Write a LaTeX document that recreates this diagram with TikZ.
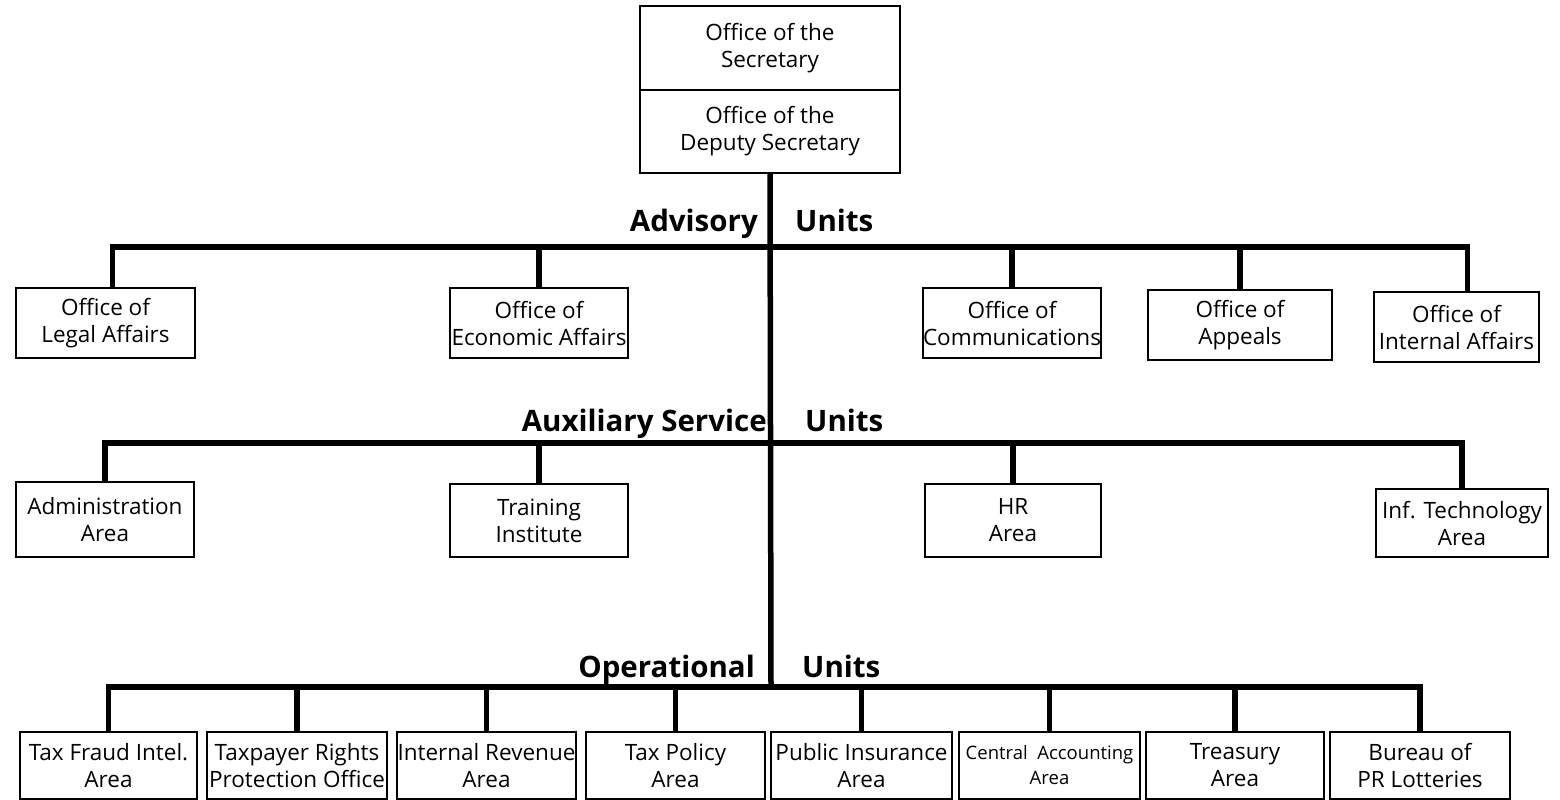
\documentclass[tikz,border=0pt]{standalone}
\usepackage{fontspec}
\setmainfont{Open Sans}
\usetikzlibrary{positioning}

\tikzset{
  office/.style={draw, line width=2pt, inner sep=0pt, align=center,
    font=\fontsize{22.5}{27}\selectfont},
  tierlbl/.style={inner sep=0pt, font=\bfseries\fontsize{29.5}{32}\selectfont},
  bar/.style={line width=5.5pt},
}

\begin{document}
\begin{tikzpicture}[x=1pt, y=-1pt]
\useasboundingbox (0,0) rectangle (1560,800);

% top offices
\node[office, minimum width=260, minimum height=84] (sec) at (770,48) {Office of the\\Secretary};
\node[office, minimum width=260, minimum height=83] (dep) at (770,131.5) {Office of the\\Deputy Secretary};

\coordinate (adv) at (771,247);
\coordinate (aux) at (771,443);
\coordinate (op) at (771,687);

\draw[bar] (dep.south) -- (op);

% advisory units
\node[tierlbl, anchor=base east] (advA) at (758,231) {Advisory};
\node[tierlbl, anchor=base west] (advB) at (795,231) {Units};

\node[office, minimum width=179, minimum height=70] (legal) at (105.5,323) {Office of\\Legal Affairs};
\node[office, minimum width=178, minimum height=70] (econ) at (539,323) {Office of\\Economic Affairs};
\node[office, minimum width=178, minimum height=70] (comm) at (1012,323) {Office of\\Communications};
\node[office, minimum width=184, minimum height=70] (appeals) at (1240,325) {Office of\\Appeals};
\node[office, minimum width=165, minimum height=70] (intaff) at (1456.5,327) {Office of\\Internal Affairs};

\draw[bar] ([xshift=7pt]legal.north) -- ([xshift=7pt]legal.north |- adv)
  -- ([xshift=11pt]intaff.north |- adv) -- ([xshift=11pt]intaff.north);
\foreach \n in {econ,comm,appeals}
  \draw[bar] (\n.north) -- (\n.north |- adv);

% auxiliary service units
\node[tierlbl, anchor=base east] (auxA) at (767,431) {Auxiliary Service};
\node[tierlbl, anchor=base west] (auxB) at (805,431) {Units};

\node[office, minimum width=178, minimum height=75] (admin) at (105,519.5) {Administration\\Area};
\node[office, minimum width=178, minimum height=73] (train) at (539,520.5) {Training\\Institute};
\node[office, minimum width=176, minimum height=73] (hr) at (1013,520.5) {HR\\Area};
\node[office, minimum width=172, minimum height=68] (infotech) at (1462,523) {Inf. Technology\\Area};

\draw[bar] (admin.north) -- (admin.north |- aux) -- (infotech.north |- aux) -- (infotech.north);
\foreach \n in {train,hr}
  \draw[bar] (\n.north) -- (\n.north |- aux);

% operational units
\node[tierlbl, anchor=base east] (opA) at (755,677) {Operational};
\node[tierlbl, anchor=base west] (opB) at (802,677) {Units};

\node[office, minimum width=177, minimum height=67] (fraud) at (108.5,765.5) {Tax Fraud Intel.\\Area};
\node[office, minimum width=180, minimum height=67] (rights) at (297,765.5) {Taxpayer Rights\\Protection Office};
\node[office, minimum width=179, minimum height=67] (revenue) at (486.5,765.5) {Internal Revenue\\Area};
\node[office, minimum width=179, minimum height=67] (policy) at (675.5,765.5) {Tax Policy\\Area};
\node[office, minimum width=181, minimum height=67] (insur) at (861.5,765.5) {Public Insurance\\Area};
\node[office, minimum width=181, minimum height=67, font=\fontsize{18.5}{25}\selectfont] (acct) at (1049.5,765.5) {Central~ Accounting\\Area};
\node[office, minimum width=178, minimum height=67] (treas) at (1235,765.5) {Treasury\\Area};
\node[office, minimum width=180, minimum height=67] (lotto) at (1420,765.5) {Bureau of\\PR Lotteries};

\draw[bar] (fraud.north) -- (fraud.north |- op) -- (lotto.north |- op) -- (lotto.north);
\foreach \n in {rights,revenue,policy,insur,acct,treas}
  \draw[bar] (\n.north) -- (\n.north |- op);
\end{tikzpicture}
\end{document}
